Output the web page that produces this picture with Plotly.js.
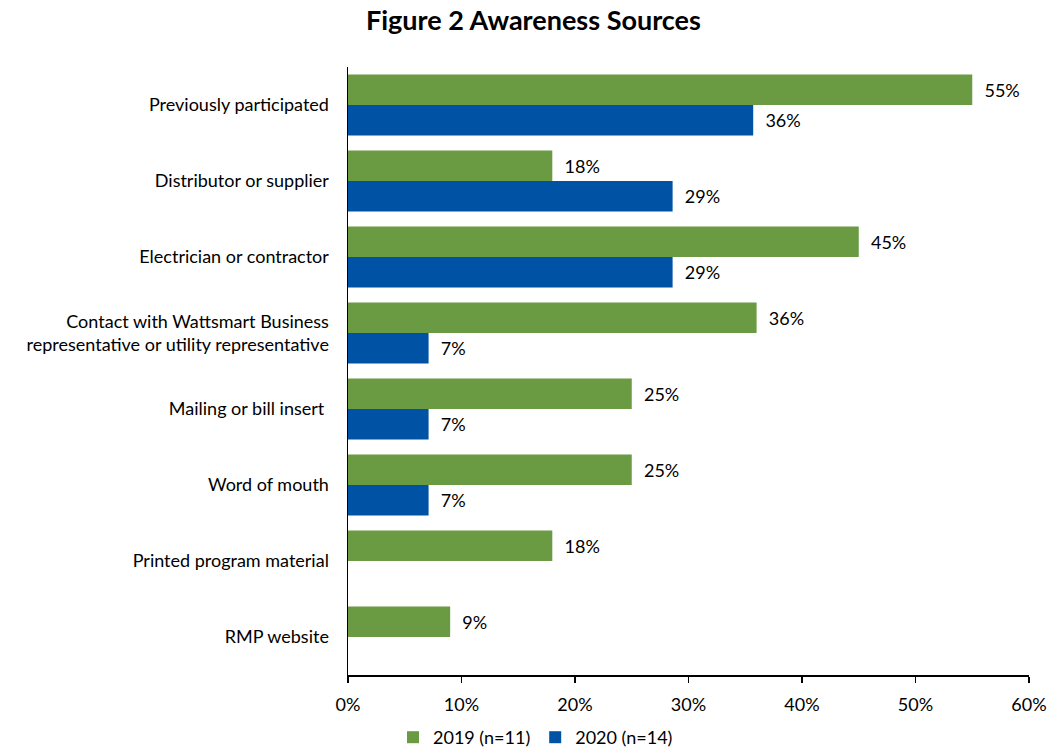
<!DOCTYPE html>
<html>
<head>
<meta charset="utf-8">
<script src="https://cdn.plot.ly/plotly-3.0.1.min.js"></script>
<style>html,body{margin:0;padding:0;background:#fff;}#chart{width:1050px;height:756px;}</style>
</head>
<body>
<div id="chart"></div>
<script>
const categories = [
  "Previously participated",
  "Distributor or supplier",
  "Electrician or contractor",
  "Contact with Wattsmart Business<br>representative or utility representative",
  "Mailing or bill insert ",
  "Word of mouth",
  "Printed program material",
  "RMP website"
];
const values2019 = [55, 18, 45, 36, 25, 25, 18, 9];
const labels2019 = ["55%", "18%", "45%", "36%", "25%", "25%", "18%", "9%"];
const values2020 = [35.7, 28.6, 28.6, 7.1, 7.1, 7.1, null, null];
const labels2020 = ["36%", "29%", "29%", "7%", "7%", "7%", "", ""];
const seriesNames = ["2019 (n=11)", "2020 (n=14)"];
const xTickVals = [0, 10, 20, 30, 40, 50, 60];
const xTickText = ["0%", "10%", "20%", "30%", "40%", "50%", "60%"];

const FONT = "Lato, 'Open Sans', sans-serif";
const FS = 18;
const traces = [
  {
    type: "bar", orientation: "h", name: seriesNames[0],
    y: categories, x: values2019, text: labels2019,
    texttemplate: "  %{text}", textposition: "outside", cliponaxis: false,
    textfont: {family: FONT, size: FS, color: "#000"},
    marker: {color: "#6A9A41"}
  },
  {
    type: "bar", orientation: "h", name: seriesNames[1],
    y: categories, x: values2020, text: labels2020,
    texttemplate: "  %{text}", textposition: "outside", cliponaxis: false,
    textfont: {family: FONT, size: FS, color: "#000"},
    marker: {color: "#0053A4"}
  }
];

const layout = {
  width: 1050, height: 756,
  paper_bgcolor: "#fff", plot_bgcolor: "#fff",
  font: {family: FONT, size: FS, color: "#000"},
  title: {text: "<b>Figure 2 Awareness Sources</b>", font: {family: FONT, size: 27, color: "#000"},
          x: 0.508, xanchor: "center", y: 0.973, yanchor: "middle", xref: "container", yref: "container"},
  margin: {l: 348, r: 21, t: 67, b: 81},
  barmode: "group", bargap: 0.2, bargroupgap: 0,
  xaxis: {
    range: [0, 60], tickmode: "array", tickvals: xTickVals, ticktext: xTickText,
    showgrid: false, zeroline: false,
    showline: true, linecolor: "#000", linewidth: 1.5,
    ticks: "outside", ticklen: 6, tickcolor: "#000", tickwidth: 1.5,
    ticklabelstandoff: 7,
    tickfont: {family: FONT, size: FS, color: "#000"}
  },
  yaxis: {
    autorange: "reversed", showgrid: false, zeroline: false,
    showline: true, linecolor: "#000", linewidth: 1.5,
    ticks: "", ticklabelstandoff: 14,
    tickfont: {family: FONT, size: FS, color: "#000"}
  },
  showlegend: true,
  legend: {orientation: "h", x: 0.51, xanchor: "center", xref: "container",
           y: 0, yanchor: "bottom", yref: "container",
           font: {family: FONT, size: FS, color: "#000"}, traceorder: "normal"}
};

Plotly.newPlot("chart", traces, layout, {displayModeBar: false, staticPlot: true});
</script>
</body>
</html>
